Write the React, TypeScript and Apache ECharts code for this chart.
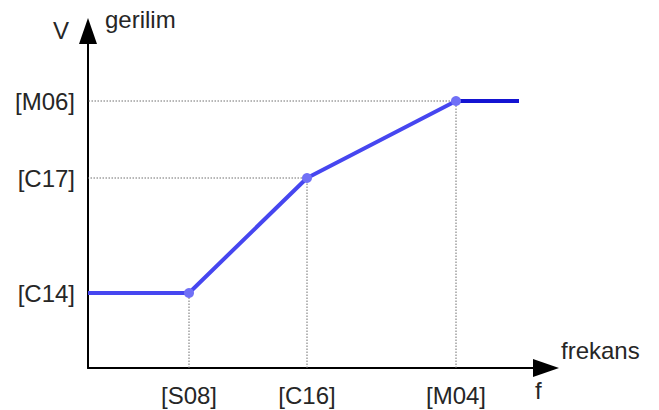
import React, { useEffect, useRef } from "react";
import * as echarts from "echarts";

// Abstract positions along the axes
const xTickLabels = ["[S08]", "[C16]", "[M04]"];
const xTickValues = [101, 219, 368];
const yTickLabels = ["[C14]", "[C17]", "[M06]"];
const yTickValues = [75, 190, 267];

const curveX = [0, 101, 219, 368];
const curveY = [75, 75, 190, 267];
const flatEndX = 431;

const X_MAX = 458;
const Y_MAX = 337;

export default function App() {
  const ref = useRef<HTMLDivElement>(null);
  useEffect(() => {
    if (!ref.current) return;
    const chart = echarts.init(ref.current, null, { renderer: "svg" });
    const font = "Liberation Sans";
    const textColor = "#262626";
    const txt = (text: string, x: number, y: number) => ({
      type: "text",
      x,
      y,
      style: {
        text,
        fontFamily: font,
        fontSize: 24,
        fill: textColor,
        align: "left",
        verticalAlign: "middle",
      },
    });

    const guideSeries = xTickValues.map((xv, i) => ({
      type: "line",
      data: [
        [xv, 0],
        [xv, yTickValues[i]],
        [0, yTickValues[i]],
      ],
      symbol: "none",
      silent: true,
      z: 1,
      lineStyle: { color: "#6e6e6e", width: 1, type: [1.5, 1.5] },
    }));

    const mainData = curveX.map((x, i) => ({
      value: [x, curveY[i]],
      symbol: i === 0 ? "none" : "circle",
    }));

    chart.setOption({
      animation: false,
      grid: { left: 88, top: 31, right: 113, bottom: 42 },
      xAxis: {
        type: "value",
        min: 0,
        max: X_MAX,
        splitLine: { show: false },
        axisTick: { show: false },
        axisLine: {
          onZero: false,
          lineStyle: { color: "#000", width: 2 },
          symbol: ["none", "triangle"],
          symbolSize: [18, 26],
        },
        axisLabel: {
          customValues: xTickValues,
          formatter: (v: number) => xTickLabels[xTickValues.indexOf(v)] ?? "",
          fontFamily: font,
          fontSize: 24,
          color: textColor,
          margin: 15,
        },
      },
      yAxis: {
        type: "value",
        min: 0,
        max: Y_MAX,
        splitLine: { show: false },
        axisTick: { show: false },
        axisLine: {
          show: true,
          onZero: false,
          lineStyle: { color: "#000", width: 2 },
          symbol: ["none", "triangle"],
          symbolSize: [18, 26],
        },
        axisLabel: {
          customValues: yTickValues,
          formatter: (v: number) => yTickLabels[yTickValues.indexOf(v)] ?? "",
          fontFamily: font,
          fontSize: 24,
          color: textColor,
          margin: 13,
        },
      },
      graphic: [
        txt("V", 53, 30),
        txt("gerilim", 105, 19),
        txt("frekans", 561, 350),
        txt("f", 535, 390),
      ],
      series: [
        ...guideSeries,
        {
          type: "line",
          data: [
            [curveX[curveX.length - 1], curveY[curveY.length - 1]],
            [flatEndX, curveY[curveY.length - 1]],
          ],
          symbol: "none",
          z: 3,
          lineStyle: { color: "#1414d2", width: 4 },
        },
        {
          type: "line",
          data: mainData,
          symbolSize: 10,
          z: 4,
          lineStyle: { color: "#4646f0", width: 4 },
          itemStyle: { color: "#7070f6" },
        },
      ],
    });
    return () => chart.dispose();
  }, []);
  return (
    <div
      ref={ref}
      style={{ position: "fixed", left: 0, top: 0, width: 659, height: 410, background: "#fff" }}
    />
  );
}
